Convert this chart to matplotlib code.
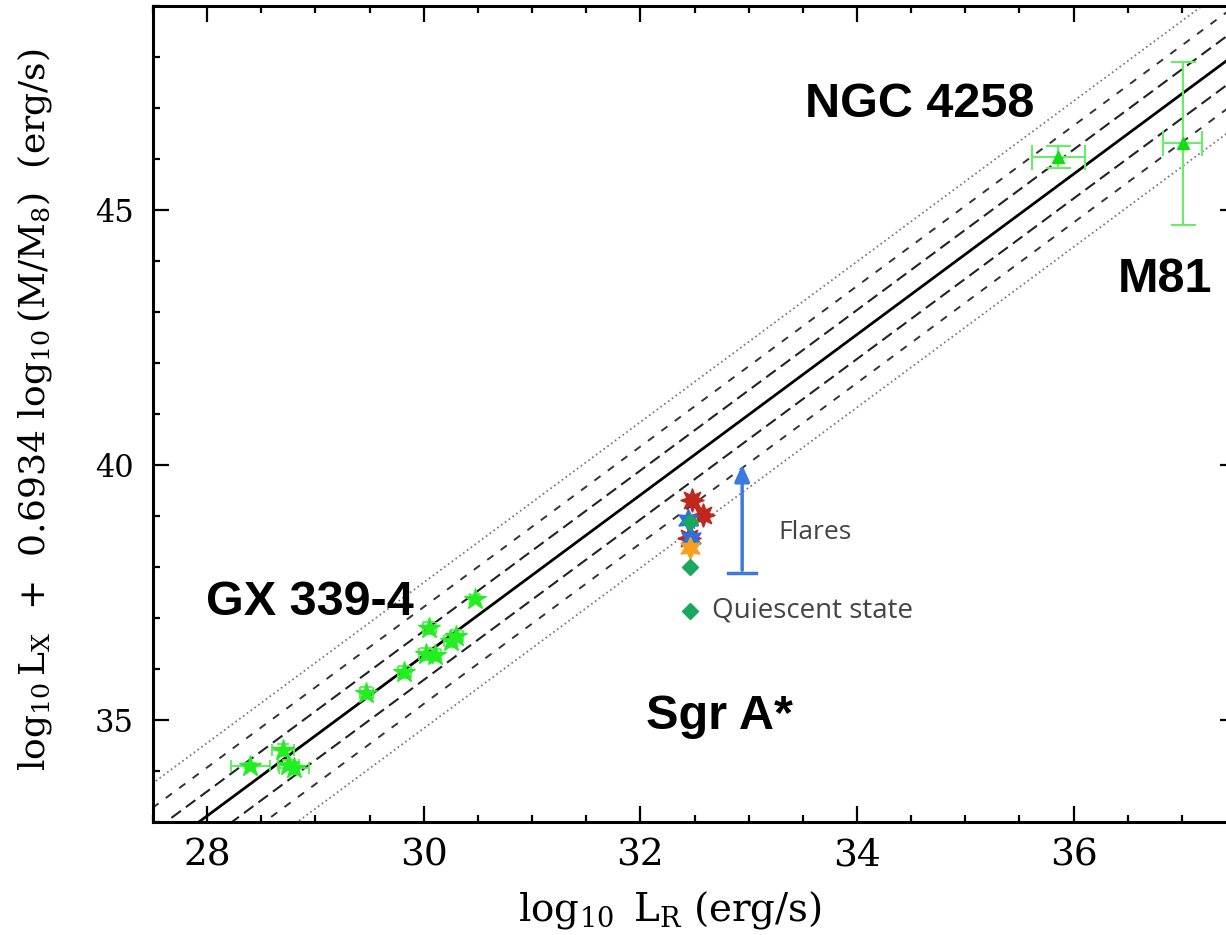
import numpy as np
import matplotlib
matplotlib.use("Agg")
import matplotlib.pyplot as plt
from matplotlib.ticker import MultipleLocator

# ---- data ----
fit_slope = 1.573
fit_x0 = 28.0
fit_y0 = 33.12
band_offsets = [0.48, 0.95, 1.43]

gx_x = [28.40, 28.70, 28.80, 28.75, 29.47, 29.82, 30.02, 30.10, 30.05, 30.25, 30.30, 30.47]
gx_y = [34.10, 34.41, 34.06, 34.12, 35.53, 35.94, 36.30, 36.27, 36.80, 36.55, 36.65, 37.37]
gx_xerr = [0.18, 0.10, 0.14, 0.10, 0.06, 0.06, 0.06, 0.06, 0.06, 0.06, 0.06, 0.04]
gx_yerr = [0.05, 0.12, 0.12, 0.10, 0.12, 0.12, 0.12, 0.12, 0.12, 0.12, 0.12, 0.08]

agn_x = [35.86, 37.01]
agn_y = [46.04, 46.31]
agn_xerr = [0.245, 0.18]
agn_yerr = [0.21, 1.60]

sgr_x = 32.46
sgr_red_x = [32.48, 32.58, 32.45]
sgr_red_y = [39.31, 39.02, 38.57]
sgr_blue_x = [32.44, 32.47]
sgr_blue_y = [38.92, 38.57]
sgr_orange_y = [38.37]
sgr_green_y = [38.88, 38.00]

flare_x = 32.94
flare_y0 = 37.88
flare_y1 = 40.06

labels = ["GX 339-4", "NGC 4258", "M81", "Sgr A*"]
label_pos = [(27.99, 37.31), (33.52, 47.06), (36.41, 43.63), (32.05, 35.06)]

# ---- figure ----
plt.rcParams['lines.scale_dashes'] = False
plt.rcParams['mathtext.fontset'] = 'dejavuserif'
fig = plt.figure(figsize=(12.26, 9.35), dpi=100)
ax = fig.add_axes([153/1226, 1-822/935, (1236-153)/1226, (822-6)/935])
ax.set_xlim(27.5, 37.5)
ax.set_ylim(33, 49)

xx = np.array([27.0, 38.0])
yy = fit_y0 + fit_slope * (xx - fit_x0)
ax.plot(xx, yy, color='black', lw=2.0, zorder=2)
styles = [dict(color='#222222', lw=1.5, ls=(0, (8.5, 4.5))),
          dict(color='#333333', lw=1.4, ls=(0, (5.5, 6.5))),
          dict(color='#777777', lw=1.3, ls=(0, (1.2, 2.2)))]
for off, st in zip(band_offsets, styles):
    ax.plot(xx, yy + off, zorder=2, **st)
    ax.plot(xx, yy - off, zorder=2, **st)

green = '#22ee22'
ax.errorbar(gx_x, gx_y, xerr=gx_xerr, yerr=gx_yerr, fmt='*', color=green,
            ms=16, ecolor='#55ee55', elinewidth=1.3, capsize=4, capthick=1.3, zorder=4)
ax.errorbar(agn_x, agn_y, xerr=agn_xerr, yerr=agn_yerr, fmt='^', color='#11dd11',
            ms=9, ecolor='#66ee66', elinewidth=1.5, capsize=9, capthick=1.5, zorder=4)

# Sgr A*
ax.plot(sgr_red_x, sgr_red_y, ls='none', marker=(8, 1, 0), ms=17, color='#c0281e', zorder=5)
ax.plot(sgr_blue_x, sgr_blue_y, ls='none', marker=(6, 1, 0), ms=16, color='#2f6fe0', zorder=6)
ax.plot([sgr_x], sgr_orange_y, ls='none', marker=(6, 1, 0), ms=16, color='#f5a020', zorder=6)
ax.plot([sgr_x] * len(sgr_green_y), sgr_green_y, ls='none', marker='D', ms=8, color='#1aa860', zorder=7)

ax.annotate('', xy=(flare_x, flare_y1), xytext=(flare_x, flare_y0),
            arrowprops=dict(arrowstyle='-|>,head_length=1.0,head_width=0.45', color='#3a7be0', lw=2.5))
ax.plot([flare_x - 0.13, flare_x + 0.13], [flare_y0, flare_y0], color='#3a7be0', lw=2.5)
ax.text(33.27, 38.67, 'Flares', fontsize=19, family='Open Sans', color='#444444', va='center')
ax.plot([sgr_x], [37.14], ls='none', marker='D', ms=8, color='#1aa860')
ax.text(32.66, 37.14, 'Quiescent state', fontsize=20, family='Open Sans', color='#444444', va='center')

for t, (px, py) in zip(labels, label_pos):
    ax.text(px, py, t, fontsize=35, fontweight='bold', family='Liberation Sans',
            ha='left', va='center', color='black')

# axes styling
for s in ax.spines.values():
    s.set_linewidth(2.2)
ax.spines['right'].set_visible(False)
ax.xaxis.set_major_locator(MultipleLocator(2))
ax.xaxis.set_minor_locator(MultipleLocator(0.5))
ax.yaxis.set_major_locator(MultipleLocator(5))
ax.yaxis.set_minor_locator(MultipleLocator(1))
ax.tick_params(which='both', direction='in', top=True, right=True, width=1.6)
ax.tick_params(which='major', length=11.5)
ax.tick_params(which='minor', length=5)
ax.tick_params(axis='x', which='major', pad=11)
ax.tick_params(axis='y', which='major', pad=14)
for lab in ax.get_xticklabels():
    lab.set_fontfamily('DejaVu Serif')
    lab.set_fontsize(27)
for lab in ax.get_yticklabels():
    lab.set_fontfamily('DejaVu Serif')
    lab.set_fontsize(22)

ax.set_xlabel(r'$\log_{10}\ \mathrm{L_R}$ (erg/s)', fontsize=28, family='DejaVu Serif')
ax.xaxis.set_label_coords(0.477, -0.082)
ax.set_ylabel(r'$\log_{10}\mathrm{L_X}$  +  0.6934 $\log_{10}$(M/M$_8$)  (erg/s)', fontsize=26,
              family='DejaVu Serif')
ax.yaxis.set_label_coords(-0.091, 0.505)

fig.savefig('out.png', dpi=100)
